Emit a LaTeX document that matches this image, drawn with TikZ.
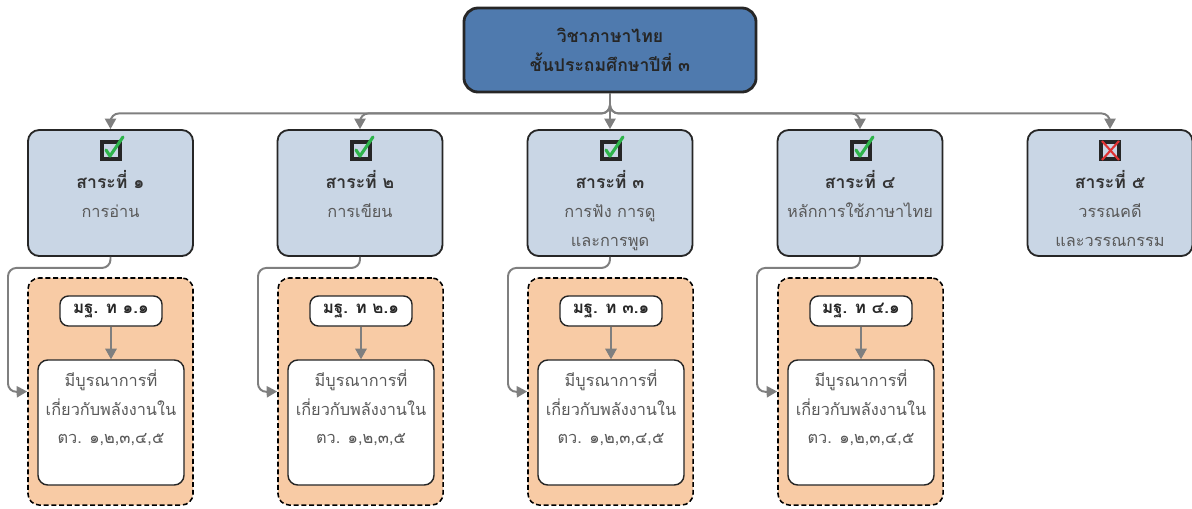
\documentclass[tikz,border=0pt]{standalone}
\usepackage{fontspec}
\setmainfont{Loma}[Script=Thai]
\usetikzlibrary{arrows.meta}
\usetikzlibrary{shapes}
\usetikzlibrary{positioning}

\definecolor{topblue}{HTML}{4F7AAE}
\definecolor{strandblue}{HTML}{C9D6E5}
\definecolor{peach}{HTML}{F8CBA5}
\definecolor{linegrey}{HTML}{7F7F7F}
\definecolor{darkline}{HTML}{262626}
\definecolor{textgrey}{HTML}{595959}
\definecolor{okgreen}{HTML}{2DB34A}
\definecolor{nored}{HTML}{E03232}

\tikzset{
  topbox/.style={draw=darkline, line width=2pt, fill=topblue, rounded corners=10pt,
    minimum width=7.3cm, minimum height=2.1cm, align=center, text=black!85,
    font=\fontsize{12.5}{20.6}\selectfont\bfseries},
  strand/.style={draw=darkline, line width=1.3pt, fill=strandblue, rounded corners=8pt,
    minimum width=4.125cm, minimum height=3.15cm},
  stext/.style={anchor=north, inner sep=0pt, align=center, text=textgrey,
    font=\fontsize{11.6}{20.6}\selectfont},
  stdgroup/.style={draw=black, line width=1.1pt, dash pattern=on 3.5pt off 2pt, fill=peach,
    rounded corners=8pt, minimum width=4.125cm, minimum height=5.675cm},
  stdbox/.style={draw=darkline, line width=1pt, fill=white, rounded corners=6pt,
    minimum width=2.55cm, minimum height=0.75cm, text=black!85,
    font=\fontsize{12}{14}\selectfont\bfseries},
  whitebox/.style={draw=darkline, line width=1pt, fill=white, rounded corners=7pt,
    minimum width=3.65cm, minimum height=3.125cm},
  conn/.style={draw=linegrey, line width=1.4pt, -{Triangle[length=7.5pt,width=8pt]},
    rounded corners=6pt}
}

\newcommand\okbox[1]{\begin{scope}[shift={(#1)}]
  \draw [line width=2.2pt, draw=darkline] (-9,-8) rectangle (9,9);
  \draw [line width=2.2pt, draw=okgreen, line cap=round, line join=round] (-5,0) -- (-1,6) -- (12,-13);
\end{scope}}
\newcommand\nobox[1]{\begin{scope}[shift={(#1)}]
  \draw [line width=2.2pt, draw=darkline] (-9,-8) rectangle (9,9);
  \draw [line width=1.5pt, draw=nored] (-8,-9) -- (9,10) (9,-9) -- (-8,10);
\end{scope}}

\begin{document}
\begin{tikzpicture}[x=0.025cm,y=-0.025cm]
\useasboundingbox (0,0) rectangle (1192,508);
% subject
\node [topbox] (top) at (610,50) {วิชาภาษาไทย\\ชั้นประถมศึกษาปีที่ ๓};
% strands
\node [strand] (s1) at (110.5,193) {};
\node [strand] (s2) at (360,193) {};
\node [strand] (s3) at (610,193) {};
\node [strand] (s4) at (860,193) {};
\node [strand] (s5) at (1110,193) {};
\okbox{111,150} \okbox{361,150} \okbox{611,150} \okbox{861,150} \nobox{1110,150}
\node [stext] (t1) at (110.5,170) {\textcolor{black!80}{\fontsize{12.5}{20.6}\selectfont\bfseries สาระที่ ๑}\\การอ่าน};
\node [stext] (t2) at (360,170) {\textcolor{black!80}{\fontsize{12.5}{20.6}\selectfont\bfseries สาระที่ ๒}\\การเขียน};
\node [stext] (t3) at (610,170) {\textcolor{black!80}{\fontsize{12.5}{20.6}\selectfont\bfseries สาระที่ ๓}\\การฟัง การดู\\และการพูด};
\node [stext] (t4) at (860,170) {\textcolor{black!80}{\fontsize{12.5}{20.6}\selectfont\bfseries สาระที่ ๔}\\หลักการใช้ภาษาไทย};
\node [stext] (t5) at (1110,170) {\textcolor{black!80}{\fontsize{12.5}{20.6}\selectfont\bfseries สาระที่ ๕}\\วรรณคดี\\และวรรณกรรม};
\draw [conn] (top.south) -- ++(0,20) -| (s1.north);
\draw [conn] (top.south) -- ++(0,20) -| (s2.north);
\draw [conn] (top.south) -- (s3.north);
\draw [conn] (top.south) -- ++(0,20) -| (s4.north);
\draw [conn] (top.south) -- ++(0,20) -| (s5.north);
% standards
\node [stdgroup] (o1) at (110.5,391.5) {};
\node [stdgroup] (o2) at (360.5,391.5) {};
\node [stdgroup] (o3) at (610.5,391.5) {};
\node [stdgroup] (o4) at (860.5,391.5) {};
\node [stdbox] (m1) at (111,311) {มฐ. ท ๑.๑};
\node [stdbox] (m2) at (361,311) {มฐ. ท ๒.๑};
\node [stdbox] (m3) at (611,311) {มฐ. ท ๓.๑};
\node [stdbox] (m4) at (861,311) {มฐ. ท ๔.๑};
\node [whitebox] (w1) at (111,422.5) {};
\node [whitebox] (w2) at (361,422.5) {};
\node [whitebox] (w3) at (611,422.5) {};
\node [whitebox] (w4) at (861,422.5) {};
\node [stext] (x1) at (111,369) {มีบูรณาการที่\\เกี่ยวกับพลังงานใน\\ตว. ๑,๒,๓,๔,๕};
\node [stext] (x2) at (361,369) {มีบูรณาการที่\\เกี่ยวกับพลังงานใน\\ตว. ๑,๒,๓,๕};
\node [stext] (x3) at (611,369) {มีบูรณาการที่\\เกี่ยวกับพลังงานใน\\ตว. ๑,๒,๓,๔,๕};
\node [stext] (x4) at (861,369) {มีบูรณาการที่\\เกี่ยวกับพลังงานใน\\ตว. ๑,๒,๓,๔,๕};
\draw [conn] (m1) -- (w1);
\draw [conn] (m2) -- (w2);
\draw [conn] (m3) -- (w3);
\draw [conn] (m4) -- (w4);
\coordinate (k1) at (8,392);
\coordinate (k2) at (258,392);
\coordinate (k3) at (508,392);
\coordinate (k4) at (757,392);
\draw [conn] (s1.south) -- ++(0,11) -| (k1) -- (o1.west);
\draw [conn] (s2.south) -- ++(0,11) -| (k2) -- (o2.west);
\draw [conn] (s3.south) -- ++(0,11) -| (k3) -- (o3.west);
\draw [conn] (s4.south) -- ++(0,11) -| (k4) -- (o4.west);
\end{tikzpicture}
\end{document}
